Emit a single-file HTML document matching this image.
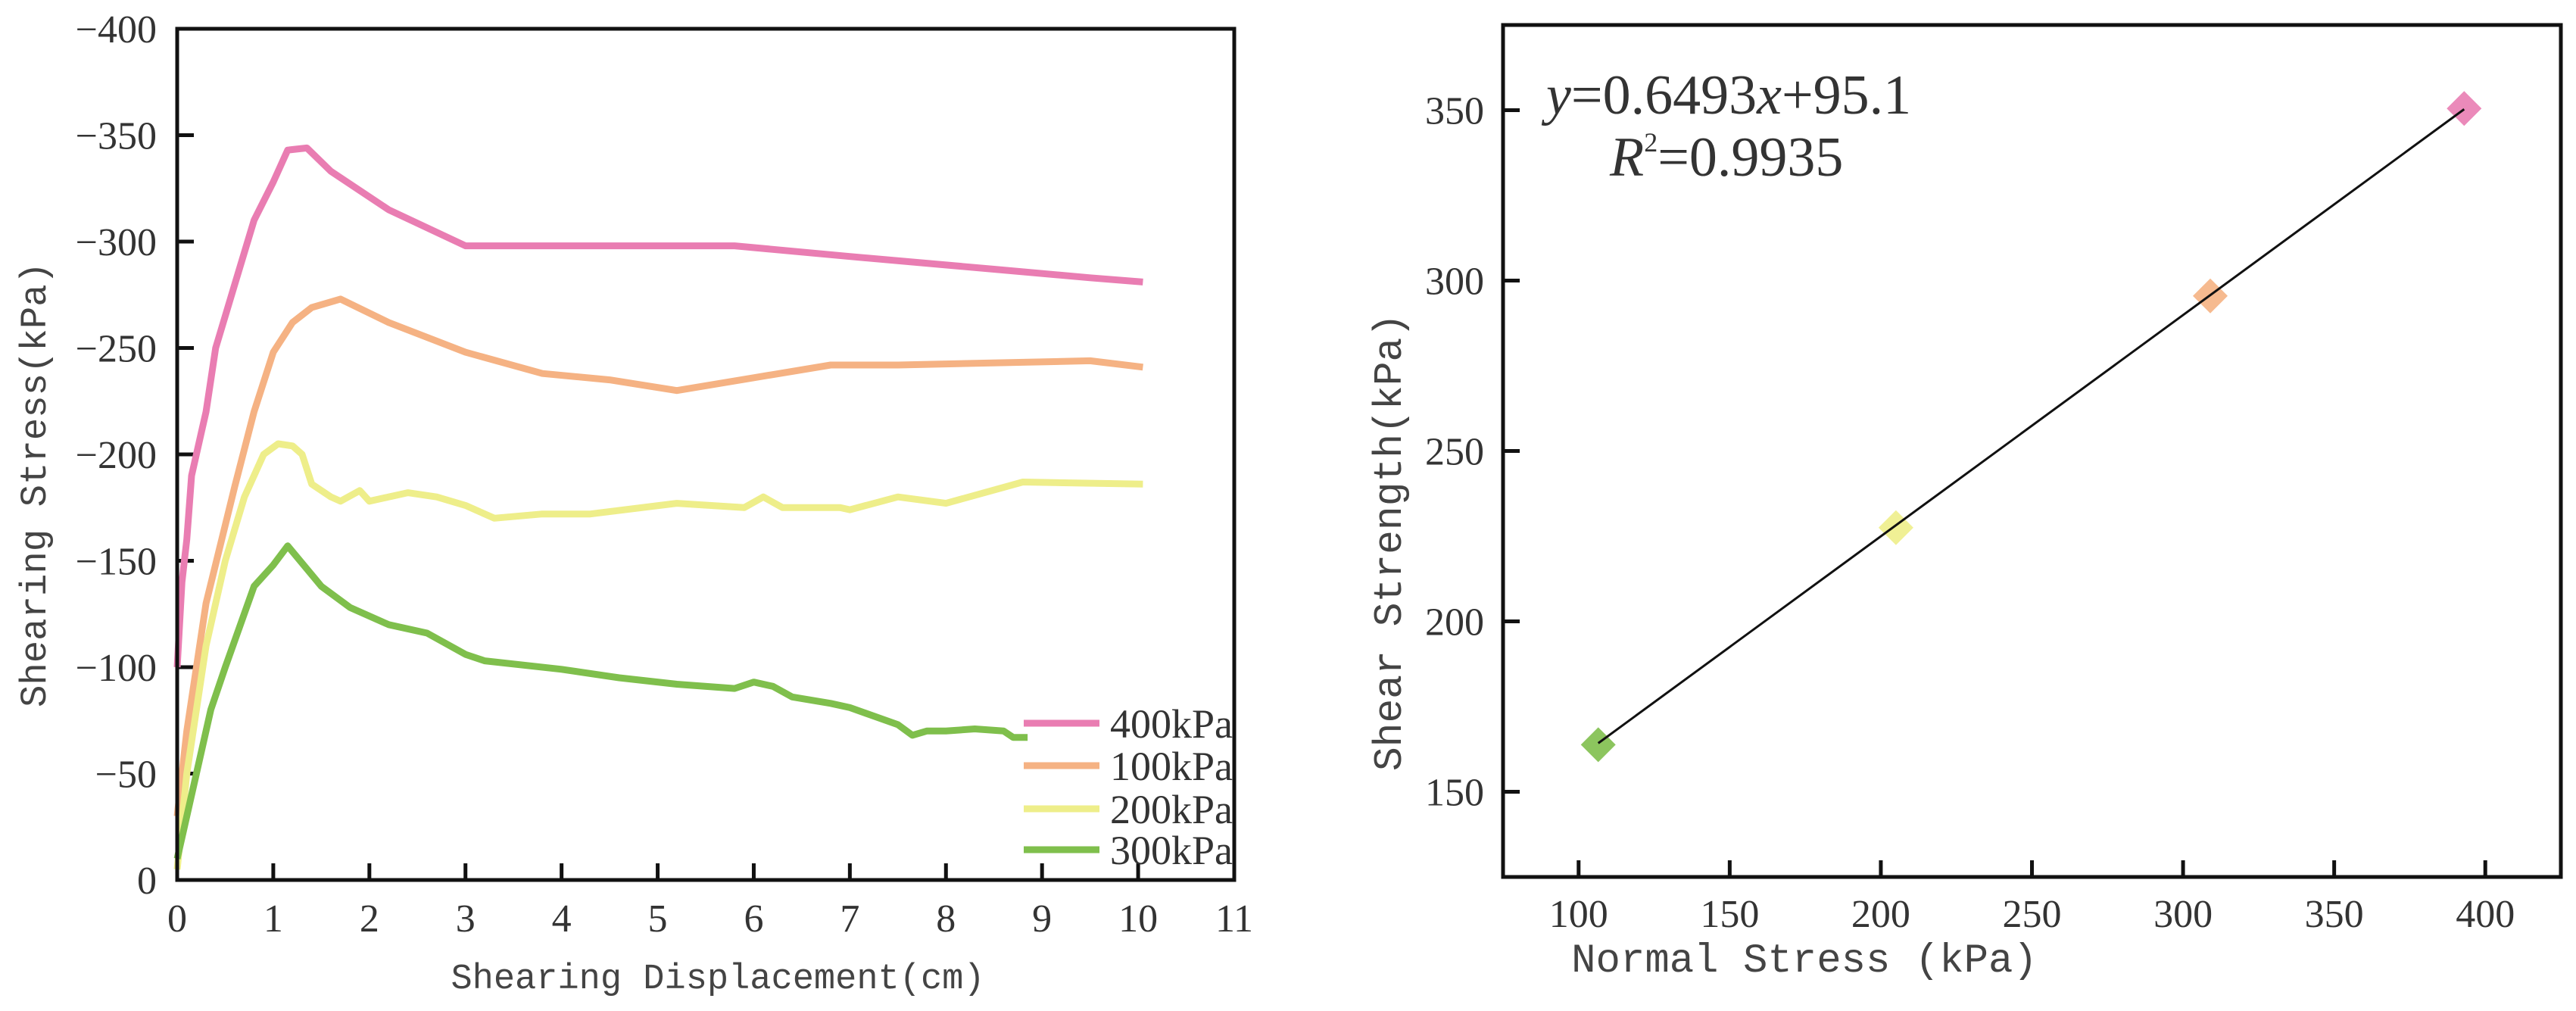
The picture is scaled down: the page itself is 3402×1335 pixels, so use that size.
<!DOCTYPE html>
<html><head><meta charset="utf-8"><style>
html,body{margin:0;padding:0;background:#fff;}
svg{display:block;}
.tick{font-family:"Liberation Serif",serif;font-size:52px;fill:#333;}
.title{font-family:"Liberation Mono","Noto Serif CJK SC",monospace;fill:#444;}
</style></head><body>
<svg id="fig" width="3402" height="1335" viewBox="0 0 3402 1335" xmlns="http://www.w3.org/2000/svg">
<g id="left"></g>
<g id="right"></g>
</svg>
<script>
// ---- Left chart data ----
const xTicksL = [0,1,2,3,4,5,6,7,8,9,10,11];
const yTicksL = [0,-50,-100,-150,-200,-250,-300,-350,-400];
const seriesNames = ["400kPa","100kPa","200kPa","300kPa"];
const seriesColors = ["#e97db2","#f5b283","#eeee8a","#7fbf4c"];
const x400 = [0,0.05,0.1,0.15,0.25,0.3,0.4,0.6,0.8,1.0,1.15,1.35,1.6,2.2,3.0,5.8,7,8.5,9.5,10.05];
const y400 = [-100,-140,-160,-190,-210,-220,-250,-280,-310,-328,-343,-344,-333,-315,-298,-298,-293,-287,-283,-281];
const x100 = [0,0.1,0.3,0.6,0.8,1.0,1.2,1.4,1.7,2.2,3,3.8,4.5,5.2,6,6.8,7.5,9.5,10.05];
const y100 = [-30,-70,-130,-185,-220,-248,-262,-269,-273,-262,-248,-238,-235,-230,-236,-242,-242,-244,-241];
const x200 = [0,0.1,0.3,0.5,0.7,0.9,1.05,1.2,1.3,1.4,1.6,1.7,1.9,2.0,2.4,2.7,3.0,3.3,3.8,4.3,5.2,5.9,6.1,6.3,6.9,7.0,7.5,8.0,8.8,10.05];
const y200 = [-5,-50,-110,-150,-180,-200,-205,-204,-200,-186,-180,-178,-183,-178,-182,-180,-176,-170,-172,-172,-177,-175,-180,-175,-175,-174,-180,-177,-187,-186];
const x300 = [0,0.1,0.2,0.35,0.5,0.8,1.0,1.15,1.5,1.8,2.2,2.6,3.0,3.2,4.0,4.6,5.2,5.8,6.0,6.2,6.4,6.8,7.0,7.5,7.65,7.8,8.0,8.3,8.6,8.7,8.85];
const y300 = [-10,-30,-50,-80,-100,-138,-148,-157,-138,-128,-120,-116,-106,-103,-99,-95,-92,-90,-93,-91,-86,-83,-81,-73,-68,-70,-70,-71,-70,-67,-67];
// ---- Right chart data ----
const xTicksR = [100,150,200,250,300,350,400];
const yTicksR = [150,200,250,300,350];
const normalStress = [106.5,205,309,393];
const shearStrength = [163.8,227.5,295.5,350.5];
const pointColors = ["#7fbf4c","#eeee8a","#f5b283","#e97db2"];
const fitSlope = 0.6493, fitIntercept = 95.1, fitStart = 106.5, fitEnd = 393;

const NS="http://www.w3.org/2000/svg";
function mk(parent,tag,attrs,text){const e=document.createElementNS(NS,tag);for(const k in attrs)e.setAttribute(k,attrs[k]);if(text!==undefined)e.textContent=text;parent.appendChild(e);return e;}

// Left axes
const L={x0:234,x1:1630,y0:1162,y1:38};
const lx=v=>L.x0+(v-0)/(11-0)*(L.x1-L.x0);
const ly=v=>L.y0-(v-0)/(-400-0)*(L.y0-L.y1);
const gl=document.getElementById('left');
xTicksL.forEach(t=>{
  if(t>0&&t<11){const tk=mk(gl,'line',{x1:lx(t),x2:lx(t),y1:L.y0,y2:L.y0-22,stroke:'#111','stroke-width':5});
  }
  const lb=mk(gl,'text',{x:lx(t),y:1230,'text-anchor':'middle',class:'tick'},String(t));
  
});
yTicksL.forEach(t=>{
  if(t!==0&&t!==-400){const tk=mk(gl,'line',{x1:L.x0,x2:L.x0+22,y1:ly(t),y2:ly(t),stroke:'#111','stroke-width':5});
  }
  const lb=mk(gl,'text',{x:207,y:ly(t)+18,'text-anchor':'end',class:'tick'},t===0?'0':'\u2212'+Math.abs(t));
  
});
const xs=[x400,x100,x200,x300], ys=[y400,y100,y200,y300];
xs.forEach((xa,i)=>{
  const d=xa.map((x,j)=>(j?'L':'M')+lx(x).toFixed(1)+' '+ly(ys[i][j]).toFixed(1)).join(' ');
  const p=mk(gl,'path',{d:d,fill:'none',stroke:seriesColors[i],'stroke-width':9,'stroke-linejoin':'round'});
  
});
const lbox=mk(gl,'rect',{x:L.x0,y:L.y1,width:L.x1-L.x0,height:L.y0-L.y1,fill:'none',stroke:'#111','stroke-width':5});

const legY=[955,1011,1068,1122];
seriesNames.forEach((n,i)=>{
  const g=mk(gl,'g',{});
  
  mk(g,'line',{x1:1352,x2:1452,y1:legY[i],y2:legY[i],stroke:seriesColors[i],'stroke-width':9});
  mk(g,'text',{x:1466,y:legY[i]+19,class:'tick',style:'font-size:54px'},n);
});
const xt=mk(gl,'text',{x:948,y:1305,'text-anchor':'middle',class:'title',style:'font-size:47px'},'Shearing Displacement(cm)');

const yt=mk(gl,'text',{x:0,y:0,'text-anchor':'middle',class:'title',style:'font-size:49px',transform:'translate(60,640) rotate(-90)'},'Shearing Stress(kPa)');


// Right axes
const R={x0:1985,x1:3382,y0:1158,y1:33};
const rx=v=>R.x0+(v-75)/(425-75)*(R.x1-R.x0);
const ry=v=>R.y0-(v-125)/(375-125)*(R.y0-R.y1);
const gr=document.getElementById('right');
xTicksR.forEach(t=>{
  const tk=mk(gr,'line',{x1:rx(t),x2:rx(t),y1:R.y0,y2:R.y0-22,stroke:'#111','stroke-width':5});
  
  const lb=mk(gr,'text',{x:rx(t),y:1224,'text-anchor':'middle',class:'tick'},String(t));
  
});
yTicksR.forEach(t=>{
  const tk=mk(gr,'line',{x1:R.x0,x2:R.x0+22,y1:ry(t),y2:ry(t),stroke:'#111','stroke-width':5});
  
  const lb=mk(gr,'text',{x:1960,y:ry(t)+18,'text-anchor':'end',class:'tick'},String(t));
  
});
normalStress.forEach((x,i)=>{
  const cx=rx(x),cy=ry(shearStrength[i]),s=23;
  const p=mk(gr,'polygon',{points:`${cx},${cy-s} ${cx+s},${cy} ${cx},${cy+s} ${cx-s},${cy}`,fill:pointColors[i],opacity:0.9});
  
});
const fl=mk(gr,'line',{x1:rx(fitStart),y1:ry(fitSlope*fitStart+fitIntercept),x2:rx(fitEnd),y2:ry(fitSlope*fitEnd+fitIntercept),stroke:'#111','stroke-width':3});

const rbox=mk(gr,'rect',{x:R.x0,y:R.y1,width:R.x1-R.x0,height:R.y0-R.y1,fill:'none',stroke:'#111','stroke-width':5});

const eq=mk(gr,'text',{x:2042,y:150,class:'tick',style:'font-size:74px'});

eq.innerHTML='<tspan font-style="italic">y</tspan>=0.6493<tspan font-style="italic">x</tspan>+95.1';
const r2=mk(gr,'text',{x:2126,y:232,class:'tick',style:'font-size:74px'});

r2.innerHTML='<tspan font-style="italic">R</tspan><tspan style="font-size:36px" dy="-32">2</tspan><tspan dy="32">=0.9935</tspan>';
const xt2=mk(gr,'text',{x:2383,y:1283,'text-anchor':'middle',class:'title',style:'font-size:54px'},'Normal Stress (kPa)');

const yt2=mk(gr,'text',{x:0,y:0,'text-anchor':'middle',class:'title',style:'font-size:53px',transform:'translate(1850,716) rotate(-90)'},'Shear Strength(kPa)');

</script>
</body></html>
